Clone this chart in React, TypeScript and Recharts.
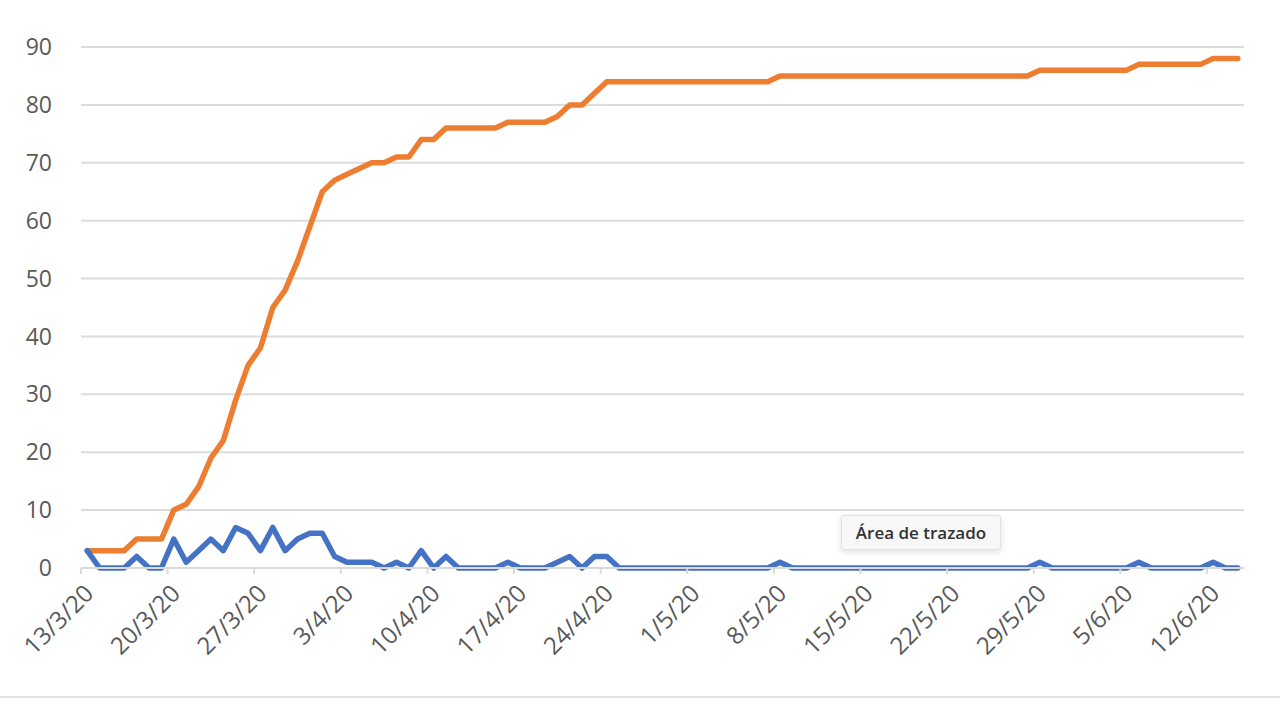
import React from "react";
import { LineChart, Line, XAxis, YAxis, CartesianGrid } from "recharts";

// Day index 0 = 13/3/20, one value per day through 14/6/20
const cumulativeCases = [
  3, 3, 3, 3, 5, 5, 5, 10, 11, 14,
  19, 22, 29, 35, 38, 45, 48, 53, 59, 65,
  67, 68, 69, 70, 70, 71, 71, 74, 74, 76,
  76, 76, 76, 76, 77, 77, 77, 77, 78, 80,
  80, 82, 84, 84, 84, 84, 84, 84, 84, 84,
  84, 84, 84, 84, 84, 84, 85, 85, 85, 85,
  85, 85, 85, 85, 85, 85, 85, 85, 85, 85,
  85, 85, 85, 85, 85, 85, 85, 86, 86, 86,
  86, 86, 86, 86, 86, 87, 87, 87, 87, 87,
  87, 88, 88, 88,
];

const dailyCases = [
  3, 0, 0, 0, 2, 0, 0, 5, 1, 3,
  5, 3, 7, 6, 3, 7, 3, 5, 6, 6,
  2, 1, 1, 1, 0, 1, 0, 3, 0, 2,
  0, 0, 0, 0, 1, 0, 0, 0, 1, 2,
  0, 2, 2, 0, 0, 0, 0, 0, 0, 0,
  0, 0, 0, 0, 0, 0, 1, 0, 0, 0,
  0, 0, 0, 0, 0, 0, 0, 0, 0, 0,
  0, 0, 0, 0, 0, 0, 0, 1, 0, 0,
  0, 0, 0, 0, 0, 1, 0, 0, 0, 0,
  0, 1, 0, 0,
];

const tickLabels = [
  "13/3/20", "20/3/20", "27/3/20", "3/4/20", "10/4/20", "17/4/20", "24/4/20",
  "1/5/20", "8/5/20", "15/5/20", "22/5/20", "29/5/20", "5/6/20", "12/6/20",
];

const yTicks = [0, 10, 20, 30, 40, 50, 60, 70, 80, 90];

const data = cumulativeCases.map((c, i) => ({
  day: i,
  cumulative: c,
  daily: dailyCases[i],
}));

// week boundaries (ticks sit between day categories)
const xTicks = tickLabels.map((_, k) => k * 7 - 0.5);
const labelFor = (v: number) => {
  const k = Math.round((v + 0.5) / 7);
  return tickLabels[k] ?? "";
};

const FONT = "'Open Sans', 'Noto Sans', sans-serif";

const XTick = (props: any) => {
  const { x, y, payload } = props;
  const ax = x + 2;
  const ay = y + 7;
  return (
    <g>
      <text
        x={ax}
        y={ay}
        dy="0.71em"
        textAnchor="end"
        transform={`rotate(-45, ${ax}, ${ay})`}
        fill="#595959"
        fontSize={24}
        fontFamily={FONT}
      >
        {labelFor(payload.value)}
      </text>
    </g>
  );
};

export default function App() {
  return (
    <div
      style={{
        position: "absolute",
        left: 0,
        top: 0,
        width: 1280,
        height: 720,
        background: "#ffffff",
        overflow: "hidden",
      }}
    >
      <LineChart
        width={1280}
        height={720}
        data={data}
        margin={{ top: 47, right: 36, bottom: 122, left: 0 }}
      >
        <CartesianGrid vertical={false} stroke="#dcdcdc" strokeWidth={2} />
        <XAxis
          type="number"
          dataKey="day"
          domain={[-0.5, 93.5]}
          ticks={xTicks}
          interval={0}
          height={30}
          allowDataOverflow
          axisLine={{ stroke: "#d9d9d9", strokeWidth: 2 }}
          tickLine={{ stroke: "#d9d9d9", strokeWidth: 2 }}
          tickSize={6}
          tick={<XTick />}
        />
        <YAxis
          type="number"
          domain={[0, 90]}
          ticks={yTicks}
          interval={0}
          width={81}
          axisLine={false}
          tickLine={false}
          tickSize={0}
          tickMargin={29}
          tick={{ fill: "#595959", fontSize: 23, fontFamily: FONT }}
        />
        <Line
          type="linear"
          dataKey="cumulative"
          stroke="#ED7D31"
          strokeWidth={5.5}
          dot={false}
          strokeLinejoin="round"
          strokeLinecap="round"
          isAnimationActive={false}
        />
        <Line
          type="linear"
          dataKey="daily"
          stroke="#4472C4"
          strokeWidth={5.5}
          dot={false}
          strokeLinejoin="round"
          strokeLinecap="round"
          isAnimationActive={false}
        />
      </LineChart>
      <div
        style={{
          position: "absolute",
          left: 841,
          top: 515,
          width: 160,
          height: 35,
          background: "#f8f8f8",
          border: "1px solid #e2e2e2",
          borderRadius: 3,
          boxShadow: "0 2px 6px rgba(0,0,0,0.12)",
          display: "flex",
          alignItems: "center",
          justifyContent: "center",
          fontFamily: FONT,
          fontSize: 17,
          fontWeight: 600,
          color: "#333333",
          boxSizing: "border-box",
        }}
      >
        Área de trazado
      </div>
      <div
        style={{
          position: "absolute",
          left: 0,
          top: 696,
          width: 1280,
          height: 2,
          background: "#e3e3e3",
        }}
      />
    </div>
  );
}
